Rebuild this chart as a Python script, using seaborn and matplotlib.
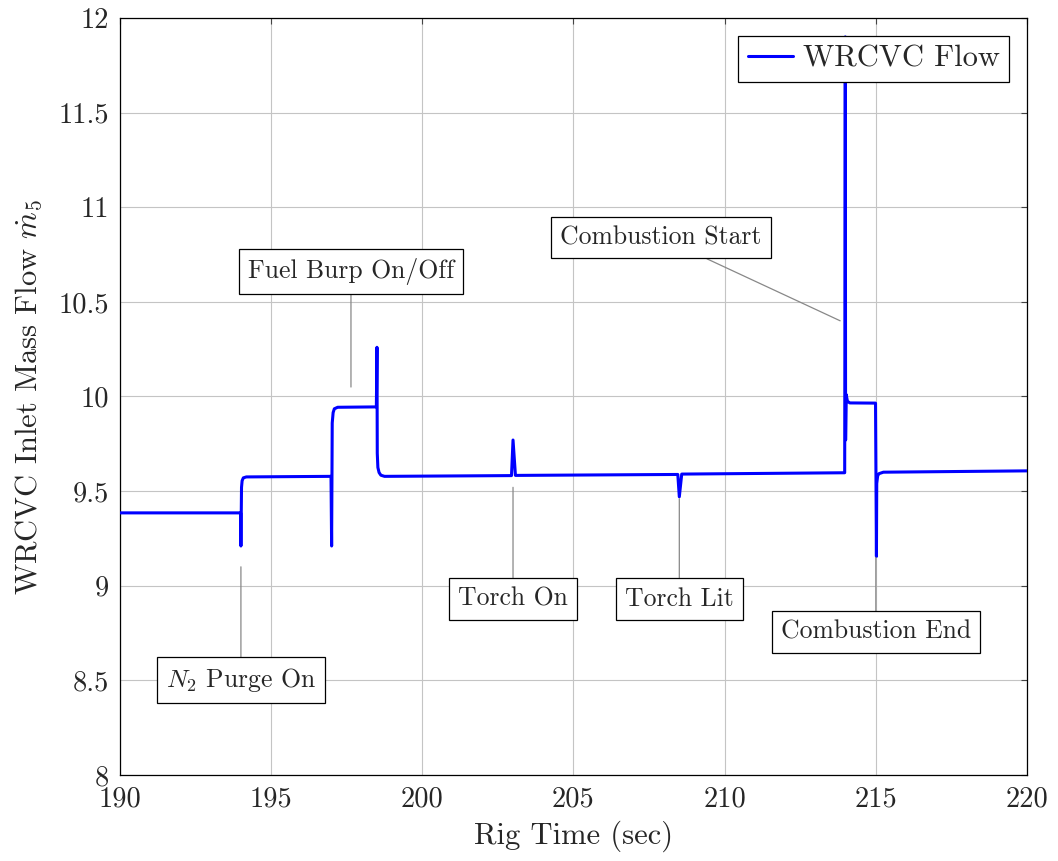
import matplotlib
matplotlib.use("Agg")
import matplotlib.pyplot as plt
import numpy as np
import pandas as pd
import seaborn as sns

# Rig time (s) and WRCVC inlet mass flow samples
rig_time = [
    190.00, 193.99, 194.00, 194.02, 194.04, 194.08, 194.18,
    196.98, 197.00, 197.02, 197.05, 197.09, 197.20,
    198.48, 198.50, 198.51, 198.53, 198.57, 198.63, 198.75,
    202.95, 203.00, 203.08,
    208.45, 208.50, 208.58,
    213.97, 213.99, 214.00, 214.02, 214.06, 214.14,
    214.99, 215.00, 215.02, 215.03, 215.06, 215.10, 215.25,
    220.00,
]
mass_flow = [
    9.385, 9.385, 9.210, 9.520, 9.555, 9.570, 9.575,
    9.578, 9.210, 9.860, 9.915, 9.935, 9.943,
    9.945, 10.260, 9.700, 9.625, 9.598, 9.584, 9.578,
    9.582, 9.770, 9.583,
    9.588, 9.470, 9.590,
    9.597, 11.900, 9.770, 10.010, 9.975, 9.966,
    9.965, 9.700, 9.155, 9.540, 9.580, 9.592, 9.600,
    9.607,
]

x_ticks = [190, 195, 200, 205, 210, 215, 220]
y_ticks = [8, 8.5, 9, 9.5, 10, 10.5, 11, 11.5, 12]
y_tick_labels = ["8", "8.5", "9", "9.5", "10", "10.5", "11", "11.5", "12"]

# Event callouts: label, pinned point, box centre
event_labels = ["$N_2$ Purge On", "Fuel Burp On/Off", "Torch On",
                "Torch Lit", "Combustion Start", "Combustion End"]
event_pin_x = [194.0, 197.64, 203.0, 208.5, 213.82, 215.0]
event_pin_y = [9.10, 10.05, 9.52, 9.46, 10.40, 9.15]
event_box_x = [194.0, 197.64, 203.0, 208.5, 207.9, 215.0]
event_box_y = [8.50, 10.66, 8.93, 8.93, 10.84, 8.755]

sns.set_style("white")
plt.rcParams["font.family"] = ["cmr10", "DejaVu Serif"]
plt.rcParams["mathtext.fontset"] = "cm"
plt.rcParams["axes.formatter.use_mathtext"] = True

fig = plt.figure(figsize=(10.58, 8.61), dpi=100)
ax = fig.add_axes([0.1134, 0.0999, 0.8573, 0.8792])

df = pd.DataFrame({"Rig Time (sec)": rig_time, "flow": mass_flow,
                   "series": "WRCVC Flow"})
sns.lineplot(data=df, x="Rig Time (sec)", y="flow", hue="series",
             palette=["#0000ff"], sort=False, estimator=None,
             linewidth=2.2, ax=ax, zorder=3)

ax.set_xlim(190, 220)
ax.set_ylim(8, 12)
ax.set_xticks(x_ticks)
ax.set_xticklabels([str(t) for t in x_ticks])
ax.set_yticks(y_ticks)
ax.set_yticklabels(y_tick_labels)
ax.grid(True, color="#c4c4c4", linewidth=0.8, zorder=0)
ax.set_axisbelow(True)
ax.tick_params(direction="in", length=4, width=0.8, top=True, right=True,
               labelsize=20.5, pad=8, color="#444444")
for s in ax.spines.values():
    s.set_color("black")
    s.set_linewidth(0.9)

ax.set_xlabel("Rig Time (sec)", fontsize=22, labelpad=6)
ax.set_ylabel(r"WRCVC Inlet Mass Flow $\dot{m}_5$", fontsize=22, labelpad=10)

for lab, px, py, bx, by in zip(event_labels, event_pin_x, event_pin_y,
                               event_box_x, event_box_y):
    ax.annotate(lab, xy=(px, py), xytext=(bx, by), fontsize=18.5,
                ha="center", va="center", zorder=5,
                bbox=dict(boxstyle="square,pad=0.35", fc="white",
                          ec="black", lw=0.9),
                arrowprops=dict(arrowstyle="-", color="#888888", lw=0.9,
                                shrinkA=0, shrinkB=0))

leg = ax.legend(loc="upper right", fontsize=22, frameon=True, fancybox=False,
                edgecolor="black", framealpha=1, handlelength=1.5,
                handletextpad=0.3, borderpad=0.3, borderaxespad=0.6)
leg.get_frame().set_linewidth(0.9)
leg.set_zorder(6)

fig.savefig("out.png", dpi=100)
